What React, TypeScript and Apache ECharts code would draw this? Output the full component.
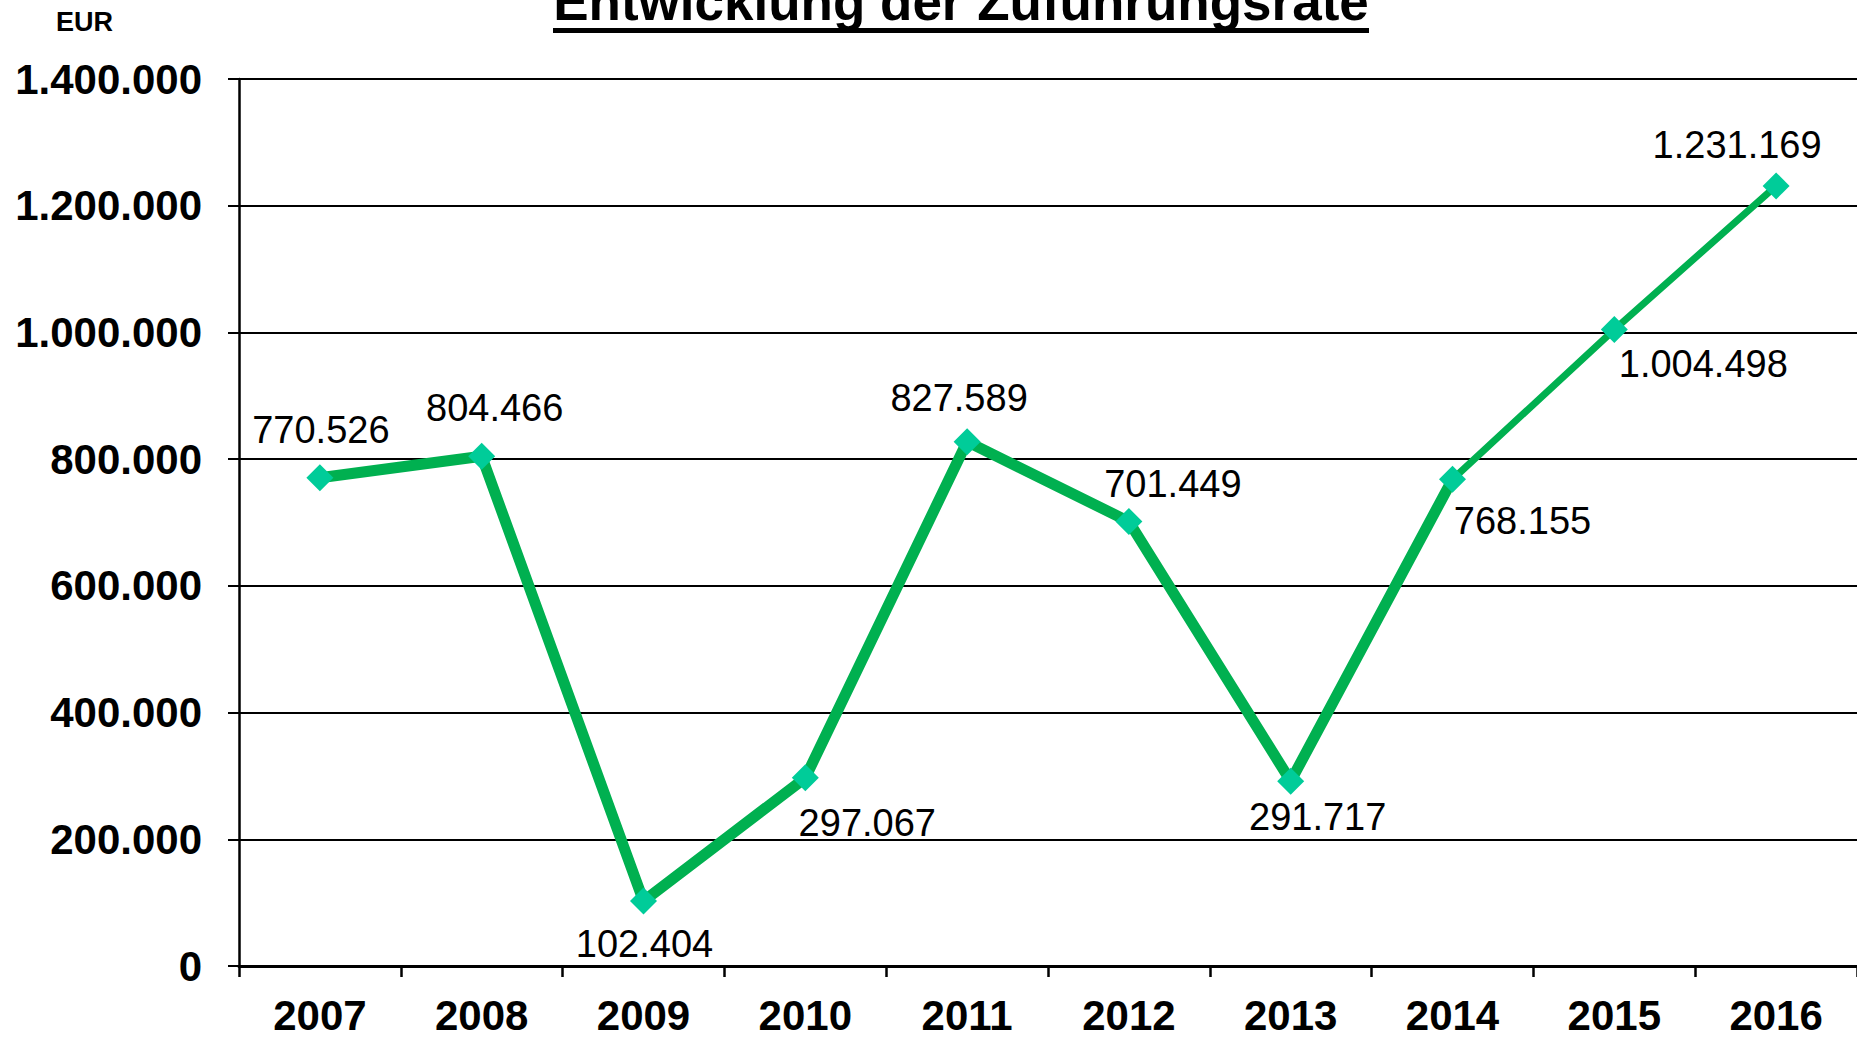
import React, { useEffect, useRef } from "react";
import * as echarts from "echarts";

const years = ["2007", "2008", "2009", "2010", "2011", "2012", "2013", "2014", "2015", "2016"];
const values = [770526, 804466, 102404, 297067, 827589, 701449, 291717, 768155, 1004498, 1231169];
// index where thick line ends and thin line begins
const splitIndex = 7;
const yTicks = { min: 0, max: 1400000, interval: 200000 };
const labelOffsets: [number, number][] = [
  [1, -48], [13, -48], [1, 43], [62, 45], [-8, -44],
  [44, -38], [27, 36], [70, 42], [89, 34], [-39, -41],
];

const fmt = (v: number) => String(Math.round(v)).replace(/\B(?=(\d{3})+(?!\d))/g, ".");

const FONT = "'Liberation Sans', Arial, sans-serif";

export default function App() {
  const ref = useRef<HTMLDivElement>(null);
  useEffect(() => {
    if (!ref.current) return;
    const chart = echarts.init(ref.current, null, { renderer: "svg" });
    const thick = values.map((v, i) => (i <= splitIndex ? v : null));
    const thin = values.map((v, i) => (i >= splitIndex ? v : null));
    chart.setOption({
      animation: false,
      backgroundColor: "#ffffff",
      textStyle: { fontFamily: FONT },
      grid: { left: 239, right: 0, top: 79, bottom: 71, containLabel: false },
      graphic: [
        {
          type: "text",
          x: 961,
          y: 1,
          style: {
            text: "Entwicklung der Zuführungsrate",
            fontFamily: FONT,
            fontWeight: "bold",
            fontSize: 53,
            fill: "#000",
            align: "center",
            verticalAlign: "middle",
          },
        },
        {
          type: "rect",
          shape: { x: 553, y: 28, width: 816, height: 5 },
          style: { fill: "#000" },
        },
        {
          type: "text",
          x: 56,
          y: 22,
          style: {
            text: "EUR",
            fontFamily: FONT,
            fontWeight: "bold",
            fontSize: 27,
            fill: "#000",
            align: "left",
            verticalAlign: "middle",
          },
        },
      ],
      xAxis: {
        type: "category",
        data: years,
        boundaryGap: true,
        axisLine: { show: true, lineStyle: { color: "#000", width: 3 } },
        axisTick: { show: true, length: 11, lineStyle: { color: "#000", width: 2.5 } },
        axisLabel: {
          color: "#000",
          fontFamily: FONT,
          fontWeight: "bold",
          fontSize: 42,
          margin: 28,
        },
        splitLine: { show: false },
      },
      yAxis: {
        type: "value",
        min: yTicks.min,
        max: yTicks.max,
        interval: yTicks.interval,
        axisLine: { show: true, lineStyle: { color: "#000", width: 2.5 } },
        axisTick: { show: true, length: 11, lineStyle: { color: "#000", width: 2 } },
        axisLabel: {
          color: "#000",
          fontFamily: FONT,
          fontWeight: "bold",
          fontSize: 42,
          margin: 37,
          formatter: (v: number) => fmt(v),
        },
        splitLine: { show: true, lineStyle: { color: "#000", width: 2 } },
      },
      series: [
        {
          type: "line",
          data: thick,
          symbol: "none",
          connectNulls: false,
          lineStyle: { color: "#00B050", width: 11 },
          z: 2,
        },
        {
          type: "line",
          data: thin,
          symbol: "none",
          connectNulls: false,
          lineStyle: { color: "#00B050", width: 7 },
          z: 2,
        },
        {
          type: "scatter",
          symbol: "diamond",
          symbolSize: 27,
          itemStyle: { color: "#00CC99", opacity: 1 },
          z: 3,
          data: values.map((v, i) => ({
            value: v,
            label: {
              show: true,
              position: "inside",
              offset: labelOffsets[i],
              formatter: () => fmt(v),
              color: "#000",
              textBorderWidth: 0,
              fontFamily: FONT,
              fontSize: 38,
            },
          })),
        },
      ],
    });
    return () => chart.dispose();
  }, []);
  return (
    <div
      ref={ref}
      style={{ position: "absolute", left: 0, top: 0, width: 1857, height: 1037 }}
    />
  );
}
